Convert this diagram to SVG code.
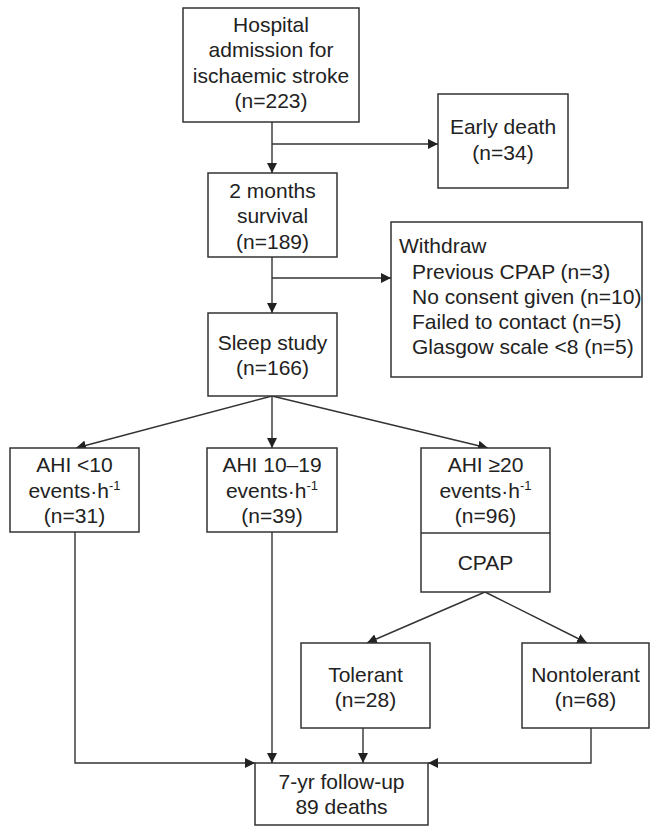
<svg xmlns="http://www.w3.org/2000/svg" width="650" height="826" viewBox="0 0 650 826">
<defs>
<marker id="ah" markerWidth="10" markerHeight="10" refX="10" refY="5" orient="auto" markerUnits="userSpaceOnUse">
<path d="M0,0 L10,5 L0,10 Z" fill="#222"/>
</marker>
<style>
.box{fill:#fff;stroke:#333;stroke-width:1.5}
.t{font-family:"Liberation Sans",Arial,sans-serif;font-size:21px;fill:#222;text-anchor:middle}
.tl{font-family:"Liberation Sans",Arial,sans-serif;font-size:21px;fill:#222}
.sup{font-size:13px}
.c{fill:none;stroke:#333;stroke-width:1.4}
.a{fill:none;stroke:#333;stroke-width:1.4;marker-end:url(#ah)}
</style>
</defs>
<rect width="650" height="826" fill="#fff"/>
<g id="connectors">
<path class="a" d="M272,122 V173"/>
<path class="a" d="M272,144 H438"/>
<path class="a" d="M272,257 V313"/>
<path class="a" d="M272,278 H391"/>
<path class="a" d="M272,396 L76,448"/>
<path class="a" d="M272,396 V448"/>
<path class="a" d="M272,396 L488,448"/>
<path class="a" d="M485,592 L367,643"/>
<path class="a" d="M485,592 L587,643"/>
<path class="a" d="M75,532 V763 H255"/>
<path class="a" d="M272,532 V763"/>
<path class="a" d="M363,728 V763"/>
<path class="a" d="M591,728 V763 H428"/>
</g>
<g id="hospital">
<rect class="box" x="183" y="8" width="176" height="114"/>
<text class="t" x="271" y="32">Hospital</text>
<text class="t" x="271" y="57">admission for</text>
<text class="t" x="271" y="83">ischaemic stroke</text>
<text class="t" x="271" y="108">(n=223)</text>
</g>
<g id="early-death">
<rect class="box" x="438" y="94" width="130" height="94"/>
<text class="t" x="503" y="134">Early death</text>
<text class="t" x="503" y="160">(n=34)</text>
</g>
<g id="two-months">
<rect class="box" x="208" y="173" width="129" height="84"/>
<text class="t" x="272.5" y="198">2 months</text>
<text class="t" x="272.5" y="223">survival</text>
<text class="t" x="272.5" y="249">(n=189)</text>
</g>
<g id="withdraw">
<rect class="box" x="391" y="222" width="251" height="155"/>
<text class="tl" x="399" y="253">Withdraw</text>
<text class="tl" x="412" y="279">Previous CPAP (n=3)</text>
<text class="tl" x="412" y="304">No consent given (n=10)</text>
<text class="tl" x="412" y="329">Failed to contact (n=5)</text>
<text class="tl" x="412" y="354">Glasgow scale &lt;8 (n=5)</text>
</g>
<g id="sleep-study">
<rect class="box" x="208" y="313" width="129" height="83"/>
<text class="t" x="272.5" y="350">Sleep study</text>
<text class="t" x="272.5" y="375">(n=166)</text>
</g>
<g id="ahi-lt10">
<rect class="box" x="10" y="448" width="129" height="84"/>
<text class="t" x="74.5" y="472">AHI &lt;10</text>
<text class="t" x="74.5" y="498">events·h<tspan class="sup" dy="-8">-1</tspan></text>
<text class="t" x="74.5" y="523">(n=31)</text>
</g>
<g id="ahi-10-19">
<rect class="box" x="207" y="448" width="130" height="84"/>
<text class="t" x="272" y="472">AHI 10–19</text>
<text class="t" x="272" y="498">events·h<tspan class="sup" dy="-8">-1</tspan></text>
<text class="t" x="272" y="523">(n=39)</text>
</g>
<g id="ahi-ge20">
<rect class="box" x="421" y="448" width="129" height="144"/>
<line x1="421" y1="533" x2="550" y2="533" stroke="#333" stroke-width="1.5"/>
<text class="t" x="485.5" y="472">AHI ≥20</text>
<text class="t" x="485.5" y="498">events·h<tspan class="sup" dy="-8">-1</tspan></text>
<text class="t" x="485.5" y="523">(n=96)</text>
<text class="t" x="485.5" y="570">CPAP</text>
</g>
<g id="tolerant">
<rect class="box" x="301" y="643" width="129" height="85"/>
<text class="t" x="365.5" y="682">Tolerant</text>
<text class="t" x="365.5" y="707">(n=28)</text>
</g>
<g id="nontolerant">
<rect class="box" x="522" y="643" width="127" height="85"/>
<text class="t" x="585.5" y="682">Nontolerant</text>
<text class="t" x="585.5" y="707">(n=68)</text>
</g>
<g id="follow-up">
<rect class="box" x="255" y="763" width="173" height="62"/>
<text class="t" x="341.5" y="789">7-yr follow-up</text>
<text class="t" x="341.5" y="814">89 deaths</text>
</g>
</svg>
